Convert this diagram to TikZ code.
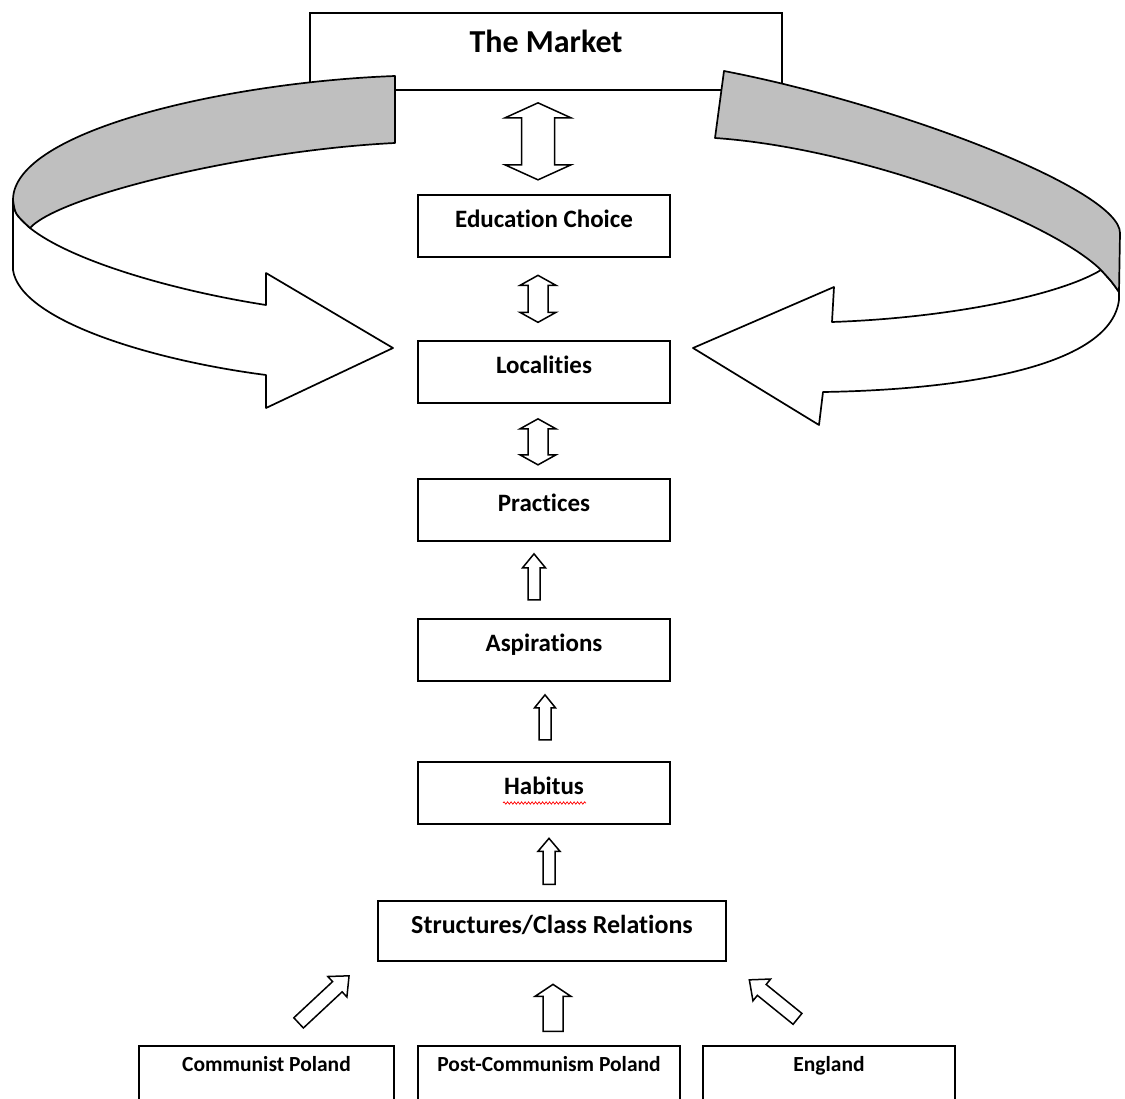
\documentclass[tikz,border=0pt]{standalone}
\usepackage{fontspec}
\setmainfont{Carlito}[Ligatures=NoCommon]
\usetikzlibrary{calc,decorations.pathmorphing}

\begin{document}
\begin{tikzpicture}[x=1pt,y=-1pt,
  box/.style={draw,line width=1.7pt,inner sep=0pt,anchor=north,minimum width=252pt,text height=33pt,text depth=29pt,font=\bfseries\fontsize{25}{30}\selectfont},
  topbox/.style={box,minimum width=472pt,text height=40pt,text depth=37pt,font=\bfseries\fontsize{32}{38}\selectfont},
  basebox/.style={box,text height=26pt,text depth=40pt,font=\bfseries\fontsize{21.5}{26}\selectfont},
  arrline/.style={draw,fill=white,line width=1.5pt,line join=miter},
  band/.style={draw,line width=1.7pt,line join=round},
  pics/uparr/.style args={#1/#2/#3/#4}{code={
    \path[arrline] (-#2,#1/2) -- (-#2,-#1/2+#4) -- (-#3,-#1/2+#4) -- (0,-#1/2) -- (#3,-#1/2+#4) -- (#2,-#1/2+#4) -- (#2,#1/2) -- cycle;}},
  pics/dblarr/.style args={#1/#2/#3/#4}{code={
    \path[arrline] (-#2,#1/2-#4) -- (-#2,-#1/2+#4) -- (-#3,-#1/2+#4) -- (0,-#1/2) -- (#3,-#1/2+#4) -- (#2,-#1/2+#4) -- (#2,#1/2-#4) -- (#3,#1/2-#4) -- (0,#1/2) -- (-#3,#1/2-#4) -- cycle;}}
]
\useasboundingbox (0,0) rectangle (1125,1099);

% boxes
\node[topbox] (mkt) at (546,12) {The Market};
\node[box] (edu) at (544,194) {Education Choice};
\node[box] (loc) at (544,340) {Localities};
\node[box] (prac) at (544,478) {Practices};
\node[box] (asp) at (544,618) {Aspirations};
\node[box] (hab) at (544,761) {Habitus};
\node[box,minimum width=348pt,text depth=27pt,font=\bfseries\fontsize{26}{30}\selectfont] (scr) at (552,900) {Structures/Class Relations};
\node[basebox,minimum width=255pt] (comm) at (266.5,1045) {Communist Poland};
\node[basebox,minimum width=262pt] (post) at (549,1045) {Post-Communism Poland};
\node[basebox] (eng) at (829,1045) {England};

\draw[red,line width=0.7pt,decorate,decoration={snake,amplitude=1.2pt,segment length=3.5pt}] ($(hab.north)+(-41,42)$) -- ++(83,0);

% left band
\path[band,fill=white] (13,200) -- (13,270) .. controls (20,320) and (150,360) .. (266,375) -- (266,408) -- (393,348) -- (266,273) -- (266,305) .. controls (170,290) and (70,260) .. (30,228) .. controls (15,214) .. (13,200) -- cycle;
\path[band,fill=black!25] (395,76) .. controls (230,82) and (13,130) .. (13,200) .. controls (15,214) .. (30,228) .. controls (60,195) and (250,150) .. (395,143) -- cycle;

% right band
\path[band,fill=white] (1101,270) .. controls (1112,282) .. (1119,292) -- (1119,300) .. controls (1110,370) and (950,390) .. (823,392) -- (819,425) -- (693,348) -- (834,287) -- (832,322) .. controls (950,318) and (1060,295) .. (1101,270) -- cycle;
\path[band,fill=black!25] (724,71) .. controls (900,105) and (1120,190) .. (1120,233) -- (1119,292) .. controls (1112,282) .. (1101,270) .. controls (1050,220) and (860,148) .. (715,138) -- cycle;

% arrows between boxes
\pic at ($(mkt.south)!.5!(edu.north)+(-7,-1)$) {dblarr=77/16.5/33/15};
\pic at ($(edu.south)!.5!(loc.north)+(-6,0)$) {dblarr=47/10/18/10};
\pic at ($(loc.south)!.5!(prac.north)+(-6,1)$) {dblarr=46/10/18/10};
\pic at ($(prac.south)!.5!(asp.north)+(-10,-3)$) {uparr=46/6/11.5/14};
\pic at ($(asp.south)!.5!(hab.north)+(1,-4)$) {uparr=45/6/10.5/13};
\pic at ($(hab.south)!.5!(scr.north)+(1,-1)$) {uparr=46/6/11/13};
\pic at ($(post.north)!.5!(scr.south)+(2.5,4.5)$) {uparr=47/10/18/12};
\pic[rotate=-47] at ($(comm.north)!.5!(scr.south west)+(2,-4)$) {uparr=69/7/14/16};
\pic[rotate=51] at ($(eng.north)!.5!(scr.south east)+(-4.5,-4)$) {uparr=62/7/14/16};
\end{tikzpicture}
\end{document}
